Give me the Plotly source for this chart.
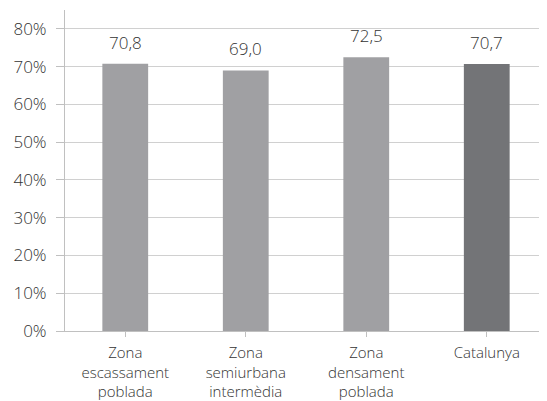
import plotly.graph_objects as go

categories = ["Zona<br>escassament<br>poblada", "Zona<br>semiurbana<br>intermèdia",
              "Zona<br>densament<br>poblada", "Catalunya"]
values = [70.8, 69.0, 72.5, 70.7]
bar_colors = ["#a0a0a3", "#a0a0a3", "#a0a0a3", "#737477"]
tick_vals = [0, 10, 20, 30, 40, 50, 60, 70, 80]
tick_text = [f"{v}%" for v in tick_vals]

font_family = "Open Sans, Liberation Sans, Arial, sans-serif"
txt = dict(family=font_family, size=17, color="#333333", weight=300)

fig = go.Figure(go.Bar(
    x=categories,
    y=values,
    marker=dict(color=bar_colors, line=dict(width=0)),
    hoverinfo="skip",
))

# value labels above the bars
for c, v in zip(categories, values):
    fig.add_annotation(x=c, y=v, text=f"{v:.1f}".replace(".", ","),
                       showarrow=False, yanchor="bottom", yshift=8, font=txt)

# page has an 8px body margin, so the figure is 8px smaller and shifted
fig.update_layout(
    width=539, height=393,
    margin=dict(l=57, r=0, t=2, b=70),
    paper_bgcolor="white", plot_bgcolor="white",
    font=txt,
    bargap=0.62,
    showlegend=False,
)
fig.update_yaxes(
    range=[0, 85], tickvals=tick_vals, ticktext=tick_text,
    showgrid=True, gridcolor="#d0d0d0", gridwidth=1,
    showline=True, linecolor="#c0c0c0", linewidth=1,
    ticks="outside", ticklen=8, tickcolor="#c0c0c0",
    ticklabelstandoff=6, zeroline=False, automargin=False,
)
fig.update_xaxes(
    showline=True, linecolor="#c0c0c0", linewidth=1,
    ticks="outside", ticklen=5, tickcolor="#c0c0c0",
    tickfont=dict(size=15), ticklabelstandoff=3, automargin=False,
)

fig.write_html("out.html")
